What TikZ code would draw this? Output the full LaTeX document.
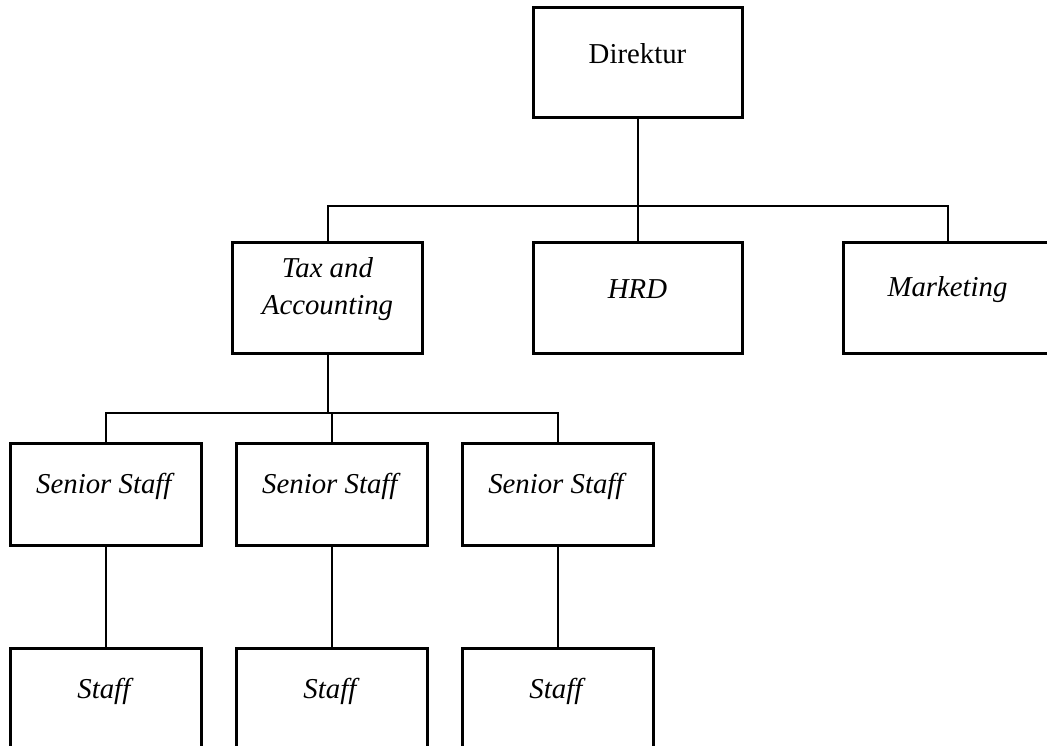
\documentclass[tikz,border=0pt]{standalone}
\usepackage{fontspec}
\setmainfont{Liberation Serif}
\usetikzlibrary{trees}

\begin{document}
\begin{tikzpicture}[
	x = 0.5pt, y = 0.5pt,
	grow = down,
	unit/.style = {draw, rectangle, line width=1.5pt, inner sep=0pt},
	big/.style = {unit, minimum width=104.5pt, minimum height=55.5pt},
	mid/.style = {unit, minimum width=95pt, minimum height=55.5pt},
	small/.style = {unit, minimum width=95.5pt, minimum height=51pt},
	lead/.style = {small, xshift=2pt},
	boxtext/.style = {yshift=4pt, align=center, font=\fontsize{14.4}{18.5}\selectfont},
	edge from parent/.style = {draw, line width=1pt},
	level 1/.style = {level distance=117.75pt, sibling distance=155pt,
		edge from parent path={(\tikzparentnode.south) -- ++(0,-43.5pt) -| (\tikzchildnode.north)}},
	level 2/.style = {level distance=98.25pt, sibling distance=113pt,
		edge from parent path={(\tikzparentnode.south) -- ++(0,-29pt) -| (\tikzchildnode.north)}},
	level 3/.style = {level distance=102.5pt,
		edge from parent path={(\tikzparentnode.south) -- (\tikzchildnode.north)}}
	]
	
	\useasboundingbox (0,0) rectangle (1047,-745);
	\clip (0,0) rectangle (1047,-745);
	
	\node[big, minimum height=55pt, label={[boxtext]center:Direktur}] (dir) at (637.5,-62) {}
	child { node[mid, label={[boxtext]center:\textit{Tax and}\\\textit{Accounting}}] (tax) {}
		child { node[lead, label={[boxtext]center:\textit{Senior Staff}}] (senior1) {}
			child { node[small, label={[boxtext]center:\textit{Staff}}] (staff1) {} }
		}
		child { node[lead, label={[boxtext]center:\textit{Senior Staff}}] (senior2) {}
			child { node[small, label={[boxtext]center:\textit{Staff}}] (staff2) {} }
		}
		child { node[lead, label={[boxtext]center:\textit{Senior Staff}}] (senior3) {}
			child { node[small, label={[boxtext]center:\textit{Staff}}] (staff3) {} }
		}
	}
	child { node[big, label={[boxtext]center:\textit{HRD}}] (hrd) {} }
	child { node[big, label={[boxtext]center:\textit{Marketing}}] (marketing) {} };
	
\end{tikzpicture}
\end{document}
